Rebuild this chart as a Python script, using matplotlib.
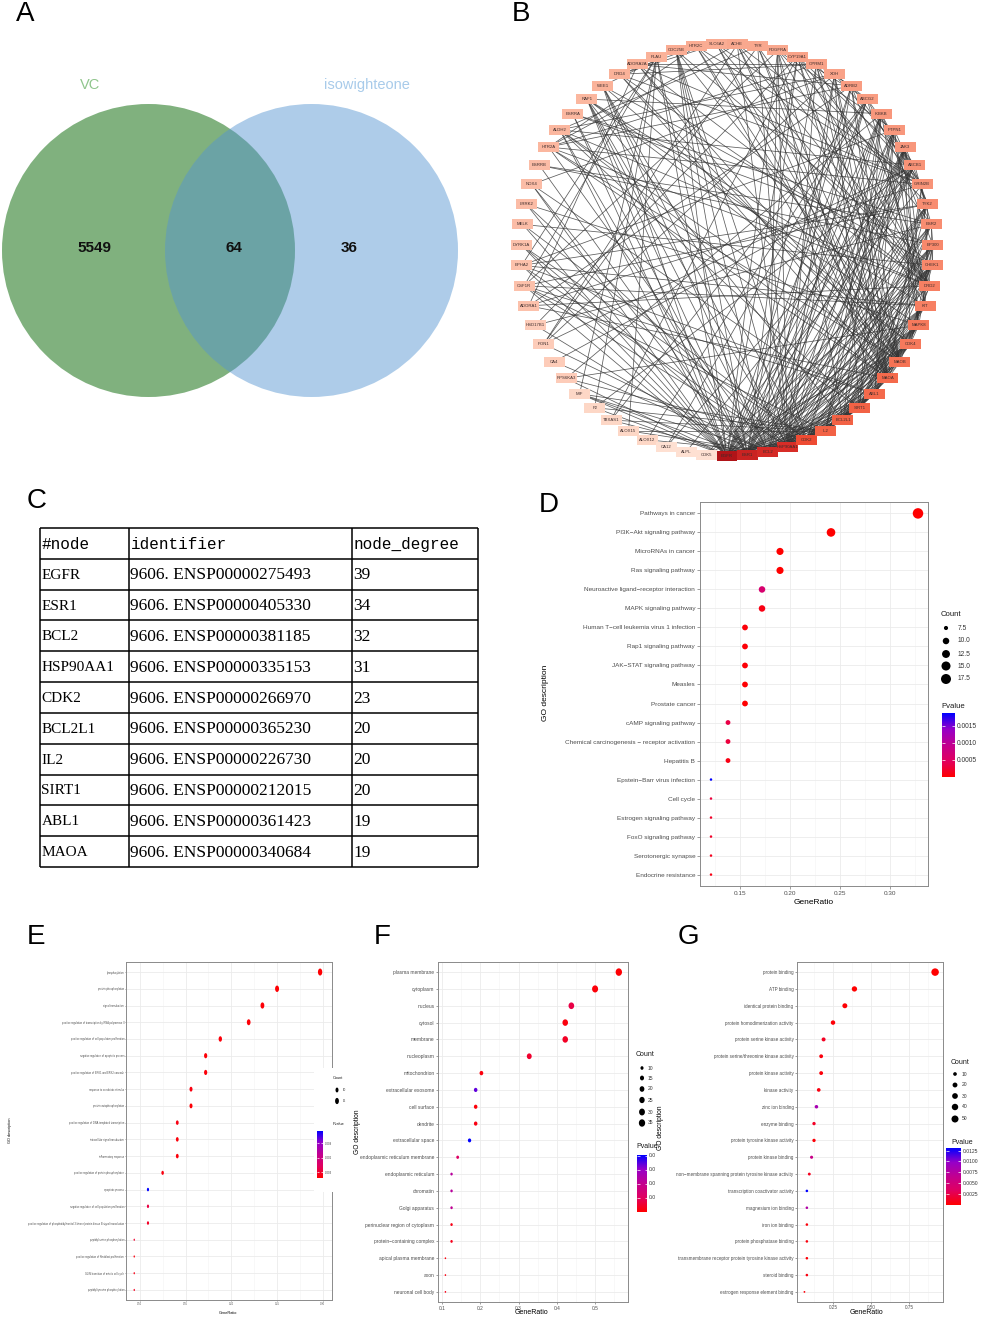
import numpy as np
import matplotlib
matplotlib.use("Agg")
import matplotlib.pyplot as plt
from matplotlib.patches import Circle, Rectangle
from matplotlib.colors import LinearSegmentedColormap, Normalize
from matplotlib.colorbar import ColorbarBase
from matplotlib.collections import LineCollection
from matplotlib.path import Path
from matplotlib.transforms import Bbox, TransformedBbox

W, H = 982, 1318
plt.rcParams['font.family'] = ['Liberation Sans', 'DejaVu Sans']

# =========================
# DATA
# =========================
venn_sets = ["VC", "isowighteone"]
venn_counts = [5549, 64, 36]          # only VC / both / only isowighteone

net_nodes = ["EGFR", "ESR1", "BCL2", "HSP90AA1", "CDK2", "IL2", "BCL2L1", "SIRT1", "ABL1", "MAOA",
             "MAOB", "CDK4", "MAPK8", "KIT", "DRD2", "CHEK1", "EP300", "ESR2", "TYK2", "GRIN2B",
             "ABCB1", "JAK3", "PTPN1", "IKBKB", "ABCG2", "ADRB2", "XDH", "OPRM1", "CYP19A1", "PDGFRA",
             "TYR", "ACHE", "SLC6A2", "HTR2C", "CDC25B", "PLAU", "ADORA2A", "DRD4", "WEE1", "RAF1",
             "ESRRA", "ALDH2", "HTR2A", "ESRRB", "NOX4", "LRRK2", "MELK", "DYRK1A", "EPHA2", "CSF1R",
             "ADORA1", "HSD17B1", "PON1", "CA4", "RPS6KA3", "MIF", "F2", "TBXAS1", "ALOX15", "ALOX12",
             "CA12", "ALPL", "CDK5"]
net_degree = [39, 34, 32, 31, 23, 20, 20, 20, 19, 19,
              18, 17, 17, 16, 16, 15, 15, 14, 14, 13,
              13, 12, 12, 12, 11, 11, 10, 10, 10, 9,
              9, 9, 8, 8, 8, 7, 7, 7, 7, 6,
              6, 6, 6, 5, 5, 5, 5, 4, 4, 4,
              4, 3, 3, 3, 3, 2, 2, 2, 2, 2,
              1, 1, 1]
net_links = {
    "EGFR": "ESR1 BCL2 HSP90AA1 CDK2 IL2 BCL2L1 SIRT1 ABL1 ESRRA CDK4 MAPK8 KIT CHEK1 EP300 ESR2 TYK2 JAK3 "
            "PTPN1 IKBKB ABCG2 ADRB2 ABCB1 PDGFRA CYP19A1 PLAU RAF1 WEE1 CDC25B EPHA2 CSF1R LRRK2 MELK "
            "DYRK1A NOX4 ALDH2 F2 RPS6KA3 MIF CDK5",
    "ESR1": "BCL2 HSP90AA1 CDK2 IL2 BCL2L1 SIRT1 ABL1 CDK4 MAPK8 KIT CHEK1 EP300 ESR2 TYK2 JAK3 PTPN1 IKBKB "
            "ABCG2 ABCB1 CYP19A1 ADRB2 OPRM1 DRD2 ESRRA ESRRB HSD17B1 RAF1 CDC25B PLAU MIF NOX4 ALDH2 TBXAS1",
    "BCL2": "HSP90AA1 CDK2 IL2 BCL2L1 SIRT1 ABL1 MAOA MAOB CDK4 MAPK8 KIT CHEK1 EP300 TYK2 JAK3 IKBKB ABCB1 "
            "ABCG2 XDH PDGFRA RAF1 WEE1 CDC25B ALOX12 ALOX15 MIF PON1 CA4 DYRK1A HTR2A",
    "HSP90AA1": "CDK2 IL2 BCL2L1 SIRT1 ABL1 CDK4 MAPK8 KIT CHEK1 EP300 ESR2 TYK2 JAK3 PTPN1 IKBKB ABCB1 ADRB2 "
                "XDH OPRM1 PDGFRA TYR ACHE RAF1 WEE1 CDC25B LRRK2 CSF1R EPHA2",
    "CDK2": "CDK4 CHEK1 EP300 SIRT1 ABL1 MAPK8 WEE1 CDC25B CDK5 MELK DYRK1A BCL2L1 IL2 JAK3 PTPN1 KIT ESR2 "
            "RPS6KA3 MAOB",
    "IL2": "BCL2L1 SIRT1 JAK3 TYK2 MAPK8 PTPN1 IKBKB ABL1 KIT CSF1R MIF F2 ALOX15 TBXAS1 CDK4",
    "BCL2L1": "SIRT1 ABL1 MAPK8 CDK4 CHEK1 EP300 IKBKB JAK3 KIT PDGFRA RAF1 MAOA TYK2 ESR2",
    "SIRT1": "EP300 ABL1 MAPK8 CHEK1 CDK4 IKBKB PTPN1 ESR2 XDH MAOA MAOB NOX4 ALDH2",
    "ABL1": "KIT PDGFRA CDK4 CHEK1 EP300 MAPK8 JAK3 TYK2 PTPN1 EPHA2 CSF1R",
    "MAOA": "MAOB DRD2 DRD4 HTR2A HTR2C SLC6A2 ACHE OPRM1 ADRB2 ADORA1 ADORA2A GRIN2B ALDH2 CYP19A1 XDH TYR",
    "MAOB": "DRD2 DRD4 HTR2A HTR2C SLC6A2 ACHE OPRM1 ADRB2 GRIN2B ALDH2 XDH TYR ADORA2A CYP19A1",
    "CDK4": "CHEK1 EP300 WEE1 CDC25B CDK5 MAPK8 RAF1 JAK3",
    "MAPK8": "EP300 IKBKB RAF1 JAK3 LRRK2 RPS6KA3 PTPN1",
    "KIT": "PDGFRA CSF1R EPHA2 JAK3 TYK2 PTPN1 RAF1 ABCG2",
    "DRD2": "DRD4 HTR2A HTR2C ADORA2A ADORA1 OPRM1 ADRB2 SLC6A2 ACHE GRIN2B TYR ALDH2 CYP19A1",
    "CHEK1": "WEE1 CDC25B EP300 MELK ESR2 CDK5",
    "EP300": "ESR2 IKBKB ESRRA ESRRB",
    "ESR2": "CYP19A1 ESRRA ESRRB HSD17B1 ABCG2 ABCB1",
    "TYK2": "JAK3 PTPN1 IKBKB CSF1R PDGFRA EPHA2",
    "GRIN2B": "DRD4 HTR2A HTR2C ACHE SLC6A2 OPRM1 ADORA1 ADORA2A ADRB2 CDK5",
    "ABCB1": "ABCG2 CYP19A1 XDH PON1 ALDH2 CA4 CA12 F2 ALPL",
    "PTPN1": "PDGFRA EPHA2",
    "IKBKB": "RPS6KA3 RAF1",
    "ABCG2": "CYP19A1 XDH CA12 ALOX12 TBXAS1",
    "ADRB2": "ADORA1 ADORA2A OPRM1 HTR2A",
    "XDH": "ALDH2 NOX4 PON1",
    "OPRM1": "HTR2A DRD4 ADORA2A",
    "CYP19A1": "HSD17B1 TBXAS1",
    "PDGFRA": "CSF1R",
    "TYR": "ACHE SLC6A2 HTR2C ALDH2 PON1",
    "ACHE": "SLC6A2 HTR2A PON1",
    "SLC6A2": "HTR2C DRD4",
    "HTR2C": "HTR2A DRD4",
    "CDC25B": "WEE1",
    "PLAU": "F2 EPHA2 CSF1R MIF ALOX15",
    "ADORA2A": "ADORA1",
}

tab_header = ["#node", "identifier", "node_degree"]
tab_nodes = ["EGFR", "ESR1", "BCL2", "HSP90AA1", "CDK2", "BCL2L1", "IL2", "SIRT1", "ABL1", "MAOA"]
tab_ids = ["9606. ENSP00000275493", "9606. ENSP00000405330", "9606. ENSP00000381185",
           "9606. ENSP00000335153", "9606. ENSP00000266970", "9606. ENSP00000365230",
           "9606. ENSP00000226730", "9606. ENSP00000212015", "9606. ENSP00000361423",
           "9606. ENSP00000340684"]
tab_degree = [39, 34, 32, 31, 23, 20, 20, 20, 19, 19]

# D - KEGG
kegg_terms = ["Pathways in cancer", "PI3K\u2212Akt signaling pathway", "MicroRNAs in cancer",
              "Ras signaling pathway", "Neuroactive ligand\u2212receptor interaction", "MAPK signaling pathway",
              "Human T\u2212cell leukemia virus 1 infection", "Rap1 signaling pathway",
              "JAK\u2212STAT signaling pathway", "Measles", "Prostate cancer", "cAMP signaling pathway",
              "Chemical carcinogenesis \u2212 receptor activation", "Hepatitis B",
              "Epstein\u2212Barr virus infection", "Cell cycle", "Estrogen signaling pathway",
              "FoxO signaling pathway", "Serotonergic synapse", "Endocrine resistance"]
kegg_ratio = [0.328, 0.241, 0.190, 0.190, 0.172, 0.172, 0.155, 0.155, 0.155, 0.155,
              0.155, 0.138, 0.138, 0.138, 0.121, 0.121, 0.121, 0.121, 0.121, 0.121]
kegg_count = [19, 14, 11, 11, 10, 10, 9, 9, 9, 9, 9, 8, 8, 8, 7, 7, 7, 7, 7, 7]
kegg_p = [1e-8, 2e-6, 1e-6, 3e-6, 0.00062, 0.0001, 5e-5, 4e-5, 3e-5, 2e-5,
          1e-5, 0.00035, 0.0003, 0.0001, 0.00188, 0.0003, 0.0002, 0.0002, 0.00015, 0.0001]

# E - GO BP
bp_terms = ["phosphorylation", "protein phosphorylation", "signal transduction",
            "positive regulation of transcription by RNA polymerase II",
            "positive regulation of cell population proliferation", "negative regulation of apoptotic process",
            "positive regulation of ERK1 and ERK2 cascade", "response to xenobiotic stimulus",
            "protein autophosphorylation", "positive regulation of DNA-templated transcription",
            "intracellular signal transduction", "inflammatory response",
            "positive regulation of protein phosphorylation", "apoptotic process",
            "negative regulation of cell population proliferation",
            "positive regulation of phosphatidylinositol 3-kinase/protein kinase B signal transduction",
            "peptidyl-serine phosphorylation", "positive regulation of fibroblast proliferation",
            "G2/M transition of mitotic cell cycle", "peptidyl-tyrosine phosphorylation"]
bp_ratio = [0.297, 0.250, 0.234, 0.219, 0.188, 0.172, 0.172, 0.156, 0.156, 0.141,
            0.141, 0.141, 0.125, 0.109, 0.109, 0.109, 0.094, 0.094, 0.094, 0.094]
bp_count = [19, 16, 15, 14, 12, 11, 11, 10, 10, 9, 9, 9, 8, 7, 7, 7, 6, 6, 6, 6]
bp_p = [0.0019, 0.0019, 0.0020, 0.0020, 0.0021, 0.0020, 0.0021, 0.0022, 0.0020, 0.0023,
        0.0021, 0.0021, 0.0022, 0.0115, 0.0035, 0.0028, 0.0030, 0.0022, 0.0024, 0.0026]

# F - GO CC
cc_terms = ["plasma membrane", "cytoplasm", "nucleus", "cytosol", "membrane", "nucleoplasm",
            "mitochondrion", "extracellular exosome", "cell surface", "dendrite", "extracellular space",
            "endoplasmic reticulum membrane", "endoplasmic reticulum", "chromatin", "Golgi apparatus",
            "perinuclear region of cytoplasm", "protein\u2212containing complex", "apical plasma membrane",
            "axon", "neuronal cell body"]
cc_ratio = [0.562, 0.500, 0.438, 0.422, 0.422, 0.328, 0.203, 0.188, 0.188, 0.188,
            0.172, 0.141, 0.125, 0.125, 0.125, 0.125, 0.125, 0.109, 0.109, 0.109]
cc_count = [36, 32, 28, 27, 27, 21, 13, 12, 12, 12, 11, 9, 8, 8, 8, 8, 8, 7, 7, 7]
cc_p = [0.0001, 0.0002, 0.0015, 0.0003, 0.0008, 0.0010, 0.0003, 0.0068, 0.0002, 0.0004,
        0.0081, 0.0022, 0.0045, 0.0045, 0.0042, 0.0005, 0.0006, 0.0003, 0.0004, 0.0005]

# G - GO MF
mf_terms = ["protein binding", "ATP binding", "identical protein binding", "protein homodimerization activity",
            "protein serine kinase activity", "protein serine/threonine kinase activity",
            "protein kinase activity", "kinase activity", "zinc ion binding", "enzyme binding",
            "protein tyrosine kinase activity", "protein kinase binding",
            "non\u2212membrane spanning protein tyrosine kinase activity", "transcription coactivator activity",
            "magnesium ion binding", "iron ion binding", "protein phosphatase binding",
            "transmembrane receptor protein tyrosine kinase activity", "steroid binding",
            "estrogen response element binding"]
mf_ratio = [0.922, 0.391, 0.328, 0.250, 0.188, 0.172, 0.172, 0.156, 0.141, 0.125,
            0.125, 0.109, 0.094, 0.078, 0.078, 0.078, 0.078, 0.078, 0.078, 0.062]
mf_count = [59, 25, 21, 16, 12, 11, 11, 10, 9, 8, 8, 7, 6, 5, 5, 5, 5, 5, 5, 4]
mf_p = [1e-5, 1e-6, 0.0002, 0.0003, 0.0012, 0.0005, 0.0004, 0.0006, 0.0085, 0.0013,
        0.0003, 0.0060, 0.0011, 0.0131, 0.0078, 0.0004, 0.0005, 0.0003, 0.0006, 0.0004]

# =========================
# HELPERS
# =========================
fig = plt.figure(figsize=(W / 100, H / 100), dpi=100)


def px_rect(x0, y0, x1, y1):
    return [x0 / W, 1 - y1 / H, (x1 - x0) / W, (y1 - y0) / H]


def fig_clip(x0, y0, x1, y1):
    return TransformedBbox(Bbox.from_extents(x0 / W, 1 - y1 / H, x1 / W, 1 - y0 / H), fig.transFigure)


red_blue = LinearSegmentedColormap.from_list(
    "red_blue", ["#ff0000", "#e1005f", "#c2008f", "#9600c8", "#0000ff"])


def ellipse_marker(r):
    t = np.linspace(0, 2 * np.pi, 41)
    return Path(np.column_stack([r * np.cos(t), np.sin(t)]), closed=True)


def dot_size(c, crange, drange):
    c = np.asarray(c, float)
    f = np.sqrt(np.clip((c - crange[0]) / (crange[1] - crange[0]), 0, 1))
    d = drange[0] + (drange[1] - drange[0]) * f
    return (d * 0.72) ** 2


def dot_panel(box, terms, ratio, count, pval, norm, crange, drange, xlim, xticks, xlabels, xminor, fs, mk):
    ax = fig.add_axes(px_rect(*box), zorder=1)
    n = len(terms)
    ypos = np.arange(n)[::-1]
    ax.scatter(ratio, ypos, s=dot_size(count, crange, drange), c=pval, cmap=red_blue, norm=norm,
               marker=mk, linewidths=0, zorder=3)
    ax.set_xlim(*xlim)
    ax.set_ylim(-0.6, n - 0.4)
    ax.set_yticks(ypos)
    ax.set_yticklabels(terms)
    ax.set_xticks(xticks)
    ax.set_xticklabels(xlabels)
    ax.set_xticks(xminor, minor=True)
    ax.tick_params(which='minor', length=0)
    ax.tick_params(which='major', labelsize=fs, labelcolor='#4d4d4d', length=fs * 0.45,
                   width=0.4, color='#555555', pad=fs * 0.3)
    ax.grid(True, which='major', color='#ebebeb', lw=0.6)
    ax.grid(True, which='minor', axis='x', color='#f3f3f3', lw=0.4)
    ax.set_axisbelow(True)
    for sp in ax.spines.values():
        sp.set_color('#8a8a8a')
        sp.set_linewidth(0.7)
    return ax


def size_legend(tx, ty, kx, ys, vals, labels, crange, drange, fs_t, fs_l, dx, mk):
    ov.text(tx, ty, "Count", fontsize=fs_t, va='center', ha='left', color='#1a1a1a')
    ov.scatter([kx] * len(ys), ys, s=dot_size(vals, crange, drange), c='black', marker=mk, linewidths=0)
    for y, lab in zip(ys, labels):
        ov.text(kx + dx, y, lab, fontsize=fs_l, va='center', ha='left', color='#333333')


def p_bar(tx, ty, box, norm, ticks, labels, fs_t, fs_l, tick_len):
    ov.text(tx, ty, "Pvalue", fontsize=fs_t, va='center', ha='left', color='#1a1a1a')
    cax = fig.add_axes(px_rect(*box), zorder=6)
    cb = ColorbarBase(cax, cmap=red_blue, norm=norm)
    cb.outline.set_visible(False)
    cb.set_ticks(ticks)
    cb.set_ticklabels(labels)
    cax.tick_params(axis='y', direction='in', left=True, right=True, length=tick_len, width=0.5,
                    color='white', labelsize=fs_l, labelcolor='#333333', pad=1.2)
    return cax


# overlay in pixel coordinates for panel letters, titles and legends
ov = fig.add_axes([0, 0, 1, 1], zorder=5)
ov.set_xlim(0, W)
ov.set_ylim(H, 0)
ov.axis('off')
ov.patch.set_visible(False)

for letter, x, y in [("A", 25, 14), ("B", 521, 14), ("C", 37, 501), ("D", 549, 505),
                     ("E", 36, 937), ("F", 382, 937), ("G", 688, 937)]:
    ov.text(x, y, letter, fontsize=20, ha='center', va='center', color='black')

# =========================
# A  VENN
# =========================
ax_a = fig.add_axes(px_rect(0, 60, 470, 410))
ax_a.set_xlim(0, 470)
ax_a.set_ylim(410, 60)
ax_a.axis('off')
venn_r, venn_cx, venn_cy, venn_gap = 146.5, 148.5, 250.5, 163
ax_a.add_patch(Circle((venn_cx, venn_cy), venn_r, facecolor='#80b17e', edgecolor='none'))
ax_a.add_patch(Circle((venn_cx + venn_gap, venn_cy), venn_r, facecolor='#5695d1', alpha=0.48,
                      edgecolor='none'))
ax_a.text(90, 85, venn_sets[0], fontsize=10.5, color='#8fc58c', ha='center', va='center')
ax_a.text(367, 85, venn_sets[1], fontsize=10.5, color='#a8cbea', ha='center', va='center')
for x, v in zip([94, 234, 349], venn_counts):
    ax_a.text(x, 248, str(v), fontsize=11, fontweight='bold', ha='center', va='center', color='#111111')

# =========================
# B  NETWORK
# =========================
ax_b = fig.add_axes(px_rect(497, 20, 957, 480))
ax_b.set_xlim(-1.117, 1.117)
ax_b.set_ylim(-1.117, 1.117)
ax_b.axis('off')
ang = np.deg2rad(-90 + 360 * np.arange(len(net_nodes)) / len(net_nodes))
pos = {nm: (np.cos(a), np.sin(a)) for nm, a in zip(net_nodes, ang)}
segs = [[pos[a], pos[b]] for a, s in net_links.items() for b in s.split()]
ax_b.add_collection(LineCollection(segs, colors='#333333', linewidths=0.55, alpha=0.8, zorder=1))

deg_anchor = [1, 4, 9, 15, 19, 23, 32, 39]
col_anchor = ['#fee0d2', '#fcc1ab', '#f9a78d', '#f8886b', '#f46a4c', '#ee4b33', '#d42a26', '#b01418']
deg_cmap = LinearSegmentedColormap.from_list(
    "deg", [((d - 1) / 38, c) for d, c in zip(deg_anchor, col_anchor)])
bw, bh = 21 / 206, 10 / 206
for nm, d in zip(net_nodes, net_degree):
    x, y = pos[nm]
    ax_b.add_patch(Rectangle((x - bw / 2, y - bh / 2), bw, bh, facecolor=deg_cmap((d - 1) / 38),
                             edgecolor='none', zorder=2))
    ax_b.text(x, y, nm, fontsize=3.1, ha='center', va='center', color='#3a2b2b', zorder=3)

# =========================
# C  TABLE
# =========================
ax_c = fig.add_axes(px_rect(38, 526, 480, 869))
ax_c.set_xlim(38, 480)
ax_c.set_ylim(869, 526)
ax_c.axis('off')
col_x = [40, 129, 352, 478]
col_fs = [11, 12.5, 12.5]
row_y = np.linspace(528, 867, len(tab_nodes) + 2)
ax_c.hlines(row_y, col_x[0], col_x[-1], color='black', lw=1.1)
ax_c.vlines(col_x, row_y[0], row_y[-1], color='black', lw=1.1)
for j, h in enumerate(tab_header):
    ax_c.text(col_x[j] + 2, (row_y[0] + row_y[1]) / 2 + 1, h, family='Liberation Mono', fontsize=11.5,
              va='center', ha='left')
for i, row in enumerate(zip(tab_nodes, tab_ids, tab_degree)):
    for j, v in enumerate(row):
        ax_c.text(col_x[j] + 1.5, (row_y[i + 1] + row_y[i + 2]) / 2 + 1, str(v), family='Liberation Serif',
                  fontsize=col_fs[j], va='center', ha='left')

# =========================
# D  KEGG
# =========================
norm_d = Normalize(0, 0.00188)
dot_panel((700, 502, 928, 886), kegg_terms, kegg_ratio, kegg_count, kegg_p, norm_d, (7, 19), (2.5, 10.5),
          (0.11, 0.338), [0.15, 0.20, 0.25, 0.30], ["0.15", "0.20", "0.25", "0.30"],
          [0.125, 0.175, 0.225, 0.275, 0.325], 4.6, 'o')
ov.text(814, 902, "GeneRatio", fontsize=6, ha='center', va='center')
ov.text(546, 693, "GO description", fontsize=6, ha='center', va='center', rotation=90)
size_legend(941, 615, 946, [628, 641, 654, 666, 679], [7.5, 10, 12.5, 15, 17.5],
            ["7.5", "10.0", "12.5", "15.0", "17.5"], (7, 19), (2.5, 10.5), 5.6, 4.8, 12, 'o')
p_bar(941, 706, (942, 713, 955, 777), norm_d, [0.0005, 0.0010, 0.0015], ["0.0005", "0.0010", "0.0015"],
      5.6, 4.8, 2.5)

# =========================
# E  GO BP
# =========================
norm_e = Normalize(0.0018, 0.0115)
mk_e = ellipse_marker(0.62)
dot_panel((126, 962, 332, 1300), bp_terms, bp_ratio, bp_count, bp_p, norm_e, (6, 19), (2.2, 7.0),
          (0.085, 0.31), [0.10, 0.15, 0.20, 0.25, 0.30], ["0.10", "0.15", "0.20", "0.25", "0.30"],
          [0.125, 0.175, 0.225, 0.275], 1.8, mk_e)
ov.add_patch(Rectangle((314, 1068), 42, 124, facecolor='white', edgecolor='none', zorder=0))
ov.text(228, 1313, "GeneRatio", fontsize=2.8, ha='center', va='center')
ov.text(10, 1130, "GO description", fontsize=2.8, ha='center', va='center', rotation=90)
size_legend(333, 1078, 337, [1090, 1101], [10, 15], ["10", "15"], (6, 19), (2.2, 7.0), 2.8, 2.0, 6, mk_e)
p_bar(333, 1124, (317, 1131, 323, 1178), norm_e, [0.003, 0.006, 0.009], ["0.003", "0.006", "0.009"],
      2.8, 2.0, 1.2)

# =========================
# F  GO CC
# =========================
norm_f = Normalize(0, 0.0081)
mk_f = ellipse_marker(0.85)
dot_panel((438, 962, 628, 1302), cc_terms, cc_ratio, cc_count, cc_p, norm_f, (7, 36), (1.8, 7.5),
          (0.0896, 0.586), [0.1, 0.2, 0.3, 0.4, 0.5], ["0.1", "0.2", "0.3", "0.4", "0.5"],
          [0.15, 0.25, 0.35, 0.45, 0.55], 3.5, mk_f)
ov.text(532, 1312, "GeneRatio", fontsize=5, ha='center', va='center')
ov.text(358, 1132, "GO description", fontsize=4.8, ha='center', va='center', rotation=90)
size_legend(636, 1055, 642, [1068, 1078, 1089, 1100, 1112, 1123], [10, 15, 20, 25, 30, 35],
            ["10", "15", "20", "25", "30", "35"], (7, 36), (1.8, 7.5), 5, 3.6, 6, mk_f)
cax_f = p_bar(636, 1147, (637, 1155, 647, 1212), norm_f, [0.002, 0.004, 0.006, 0.008], [""] * 4,
              5, 3.6, 1.8)
for v in [0.002, 0.004, 0.006, 0.008]:
    t = cax_f.text(1.15, v, f"{v:.3f}", transform=cax_f.get_yaxis_transform(), fontsize=3.6,
                   va='center', ha='left', color='#333333')
    t.set_clip_path(None)
    t.set_clip_box(fig_clip(640, 1140, 655, 1220))
    t.set_clip_on(True)

# =========================
# G  GO MF
# =========================
norm_g = Normalize(0, 0.0131)
dot_panel((797, 962, 943, 1302), mf_terms, mf_ratio, mf_count, mf_p, norm_g, (4, 59), (1.8, 7.5),
          (0.013, 0.974), [0.25, 0.50, 0.75], ["0.25", "0.50", "0.75"],
          [0.125, 0.375, 0.625, 0.875], 3.3, 'o')
ov.text(867, 1313, "GeneRatio", fontsize=5, ha='center', va='center')
t = ov.text(661, 1128, "GO description", fontsize=4.8, ha='center', va='center', rotation=90)
t.set_clip_path(None)
t.set_clip_box(fig_clip(656, 1000, 700, 1250))
t.set_clip_on(True)
size_legend(951, 1062, 955, [1074, 1085, 1096, 1107, 1119], [10, 20, 30, 40, 50],
            ["10", "20", "30", "40", "50"], (4, 59), (1.8, 7.5), 5, 3.6, 7, 'o')
p_bar(951, 1142, (946, 1148, 961, 1205), norm_g, [0.0025, 0.0050, 0.0075, 0.0100, 0.0125],
      ["0.0025", "0.0050", "0.0075", "0.0100", "0.0125"], 5, 3.6, 2)

fig.savefig("out.png", dpi=100)
